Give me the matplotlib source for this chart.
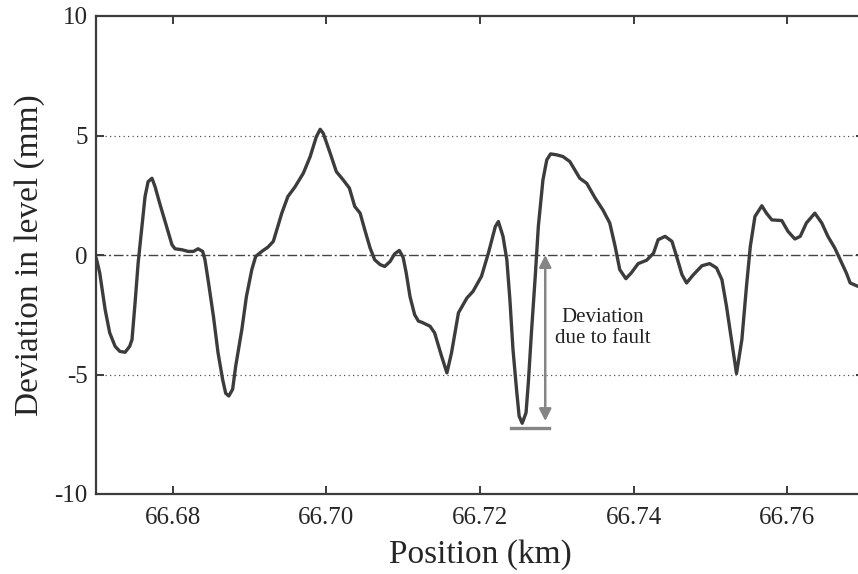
import matplotlib.pyplot as plt

plt.rcParams['font.family'] = ['Liberation Serif', 'DejaVu Serif']
plt.rcParams['axes.unicode_minus'] = False

# track level deviation along the line
pos_km = [66.6700, 66.6701, 66.6705, 66.6712, 66.6718, 66.6725, 66.6731, 66.6738,
          66.6744, 66.6747, 66.6751, 66.6755, 66.6760, 66.6764, 66.6768, 66.6773,
          66.6777, 66.6783, 66.6792, 66.6799, 66.6803, 66.6812, 66.6820, 66.6827,
          66.6833, 66.6839, 66.6842, 66.6846, 66.6853, 66.6859, 66.6865, 66.6869,
          66.6873, 66.6878, 66.6882, 66.6890, 66.6896, 66.6903, 66.6908, 66.6916,
          66.6924, 66.6931, 66.6942, 66.6950, 66.6959,
          66.6970, 66.6979, 66.6987, 66.6992, 66.6996, 66.7005, 66.7013, 66.7022,
          66.7030, 66.7037, 66.7044, 66.7050, 66.7057, 66.7063, 66.7070, 66.7076,
          66.7083, 66.7089, 66.7095, 66.7100, 66.7104, 66.7109, 66.7115, 66.7120, 66.7124,
          66.7135, 66.7141, 66.7150, 66.7157, 66.7163, 66.7172, 66.7183, 66.7191,
          66.7202, 66.7211, 66.7220, 66.7224, 66.7230, 66.7235, 66.7239, 66.7243,
          66.7248, 66.7251, 66.7255, 66.7260, 66.7263, 66.7267, 66.7272, 66.7276,
          66.7282, 66.7287, 66.7292, 66.7300,
          66.7308, 66.7317, 66.7330, 66.7339, 66.7350, 66.7360, 66.7369, 66.7376,
          66.7382, 66.7390, 66.7397, 66.7406, 66.7417, 66.7426, 66.7432, 66.7441,
          66.7450, 66.7456, 66.7463, 66.7469, 66.7478, 66.7489, 66.7499, 66.7508,
          66.7515, 66.7521, 66.7528, 66.7534, 66.7541, 66.7547, 66.7552, 66.7558,
          66.7567, 66.7573, 66.7580, 66.7593, 66.7601, 66.7610, 66.7617, 66.7625,
          66.7636, 66.7645, 66.7653, 66.7662, 66.7671, 66.7677, 66.7682, 66.7692,
          66.7700]
dev_mm = [-0.10, -0.20, -0.75, -2.28, -3.26, -3.82, -4.03, -4.07,
          -3.82, -3.54, -2.00, -0.33, 1.19, 2.45, 3.07, 3.21,
          2.86, 2.17, 1.19, 0.43, 0.26, 0.22, 0.15, 0.15,
          0.26, 0.15, -0.20, -1.03, -2.56, -4.09, -5.21, -5.79,
          -5.90, -5.62, -4.65, -3.12, -1.73, -0.61, -0.06, 0.15,
          0.33, 0.57, 1.75, 2.45, 2.84,
          3.42, 4.12, 4.95, 5.26, 5.09, 4.26, 3.49, 3.14,
          2.80, 2.03, 1.75, 1.06, 0.29, -0.20, -0.40, -0.48,
          -0.27, 0.05, 0.19, -0.10, -0.75, -1.75, -2.50, -2.77, -2.81,
          -2.98, -3.26, -4.23, -4.93, -4.09, -2.42, -1.80, -1.52,
          -0.89, 0.08, 1.19, 1.40, 0.78, -0.20, -1.87, -3.95,
          -5.76, -6.74, -7.04, -6.60, -5.34, -3.26, -0.89, 1.19,
          3.14, 3.98, 4.23, 4.19,
          4.12, 3.91, 3.21, 3.00, 2.38, 1.89, 1.34, 0.36,
          -0.61, -0.99, -0.75, -0.36, -0.22, 0.08, 0.64, 0.78,
          0.57, -0.06, -0.82, -1.17, -0.82, -0.45, -0.36, -0.54,
          -1.03, -2.15, -3.67, -4.96, -3.54, -1.31, 0.36, 1.61,
          2.06, 1.75, 1.47, 1.44, 0.99, 0.67, 0.78, 1.34,
          1.75, 1.34, 0.78, 0.29, -0.33, -0.75, -1.17, -1.31,
          -1.35]

x_ticks = [66.68, 66.70, 66.72, 66.74, 66.76]
y_ticks = [-10, -5, 0, 5, 10]

# fault annotation
fault_x = 66.7285
fault_top, fault_bottom = 0.0, -6.95
base_x = [66.7241, 66.7290]
base_y = -7.22

dark = '#3c3c3c'
fig = plt.figure(figsize=(8.58, 5.74), dpi=100)
ax = fig.add_axes([95.9 / 858, 1 - 494 / 574, (864 - 95.9) / 858, 478 / 574])

ax.axhline(5, color='#555555', lw=0.9, ls=(0, (1, 2.6)), zorder=1)
ax.axhline(-5, color='#555555', lw=0.9, ls=(0, (1, 2.6)), zorder=1)
ax.axhline(0, color='#444444', lw=1.0, ls=(0, (7, 2, 1.5, 2)), zorder=1)

ax.plot(pos_km, dev_mm, color=dark, lw=2.4, zorder=3,
        solid_joinstyle='round', solid_capstyle='round')

ax.annotate('', xy=(fault_x, fault_bottom), xytext=(fault_x, fault_top),
            arrowprops=dict(arrowstyle='<|-|>', color='#858585', lw=1.8,
                            mutation_scale=18, shrinkA=0, shrinkB=0), zorder=2)
ax.plot(base_x, [base_y, base_y], color='#858585', lw=2.4, zorder=2)
ax.text(66.7360, -3.05, 'Deviation\ndue to fault', ha='center', va='center',
        fontsize=15, color='#222222', linespacing=1.1)

ax.set_xlim(66.67, 66.77)
ax.set_ylim(-10, 10)
ax.set_xticks(x_ticks)
ax.set_xticklabels(['%.2f' % v for v in x_ticks])
ax.set_yticks(y_ticks)
ax.tick_params(direction='in', length=6, width=1.4, colors=dark, labelcolor='#262626',
               labelsize=18, top=True, right=True)
ax.tick_params(axis='x', pad=9)
ax.tick_params(axis='y', pad=6)
for s in ax.spines.values():
    s.set_color(dark)
    s.set_linewidth(1.6)

ax.set_xlabel('Position (km)', fontsize=24, color='#262626', labelpad=8)
ax.set_ylabel('Deviation in level (mm)', fontsize=24, color='#262626')
ax.yaxis.set_label_coords(-0.066, 0.5)

fig.savefig('out.png', dpi=100)
